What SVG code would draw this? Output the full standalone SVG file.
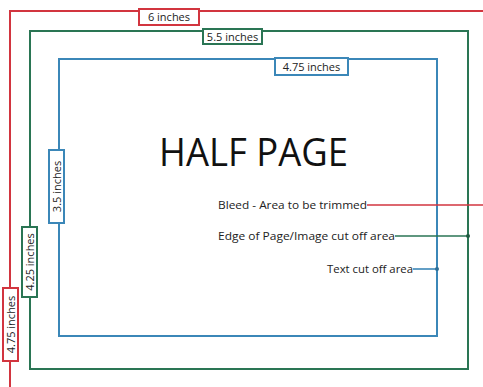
<svg xmlns="http://www.w3.org/2000/svg" width="483" height="387" viewBox="0 0 483 387">
<style>
.red{stroke:#d2353f}
.green{stroke:#2a7554}
.blue{stroke:#3b87b8}
.frame{fill:none;stroke-width:2}
.box{fill:#fff;stroke-width:2}
.lbl{font-family:"Open Sans","DejaVu Sans",sans-serif;font-size:11px;fill:#222}
.ann{font-family:"Open Sans","DejaVu Sans",sans-serif;font-size:11px;fill:#222}
.title{font-family:"Open Sans","DejaVu Sans",sans-serif;font-size:38px;fill:#111}
.lead{fill:none;stroke-width:1.6}
</style>
<rect width="483" height="387" fill="#fff"/>
<g id="bleed">
<path class="frame red" d="M10,392 V11 H490"/>
</g>
<g id="page">
<rect class="frame green" x="30" y="31" width="438" height="338"/>
</g>
<g id="safe">
<rect class="frame blue" x="59" y="59" width="378" height="277"/>
</g>
<g id="title">
<text class="title" x="159" y="166" textLength="189" lengthAdjust="spacingAndGlyphs">HALF PAGE</text>
</g>
<g id="label-6in">
<rect class="box red" x="139" y="9" width="60" height="16"/>
<text class="lbl" x="169" y="21" text-anchor="middle">6 inches</text>
</g>
<g id="label-55in">
<rect class="box green" x="203" y="29" width="59" height="15"/>
<text class="lbl" x="232.5" y="40.5" text-anchor="middle">5.5 inches</text>
</g>
<g id="label-475in-h">
<rect class="box blue" x="275" y="58" width="73" height="17"/>
<text class="lbl" x="311.5" y="70.5" text-anchor="middle">4.75 inches</text>
</g>
<g id="label-35in">
<rect class="box blue" x="49" y="150" width="15" height="73"/>
<text class="lbl" transform="translate(60.5,186.5) rotate(-90)" text-anchor="middle">3.5 inches</text>
</g>
<g id="label-425in">
<rect class="box green" x="22" y="227" width="15" height="70"/>
<text class="lbl" transform="translate(33.5,262) rotate(-90)" text-anchor="middle">4.25 inches</text>
</g>
<g id="label-475in-v">
<rect class="box red" x="3" y="288" width="15" height="73"/>
<text class="lbl" transform="translate(14.5,324.5) rotate(-90)" text-anchor="middle">4.75 inches</text>
</g>
<g id="connectors">
<line class="lead red" x1="367" y1="205" x2="483" y2="205"/>
<line class="lead green" x1="395" y1="236" x2="468" y2="236"/>
<circle cx="468" cy="236" r="2" fill="#1f5a40"/>
<line class="lead blue" x1="413" y1="269" x2="437" y2="269"/>
<circle cx="437" cy="269" r="2" fill="#2d6e97"/>
</g>
<g id="ann-bleed">
<text class="ann" x="218" y="208.5" textLength="149" lengthAdjust="spacingAndGlyphs">Bleed - Area to be trimmed</text>
</g>
<g id="ann-edge">
<text class="ann" x="218" y="239.5" textLength="177" lengthAdjust="spacingAndGlyphs">Edge of Page/Image cut off area</text>
</g>
<g id="ann-text">
<text class="ann" x="327" y="272.5" textLength="86" lengthAdjust="spacingAndGlyphs">Text cut off area</text>
</g>
</svg>
